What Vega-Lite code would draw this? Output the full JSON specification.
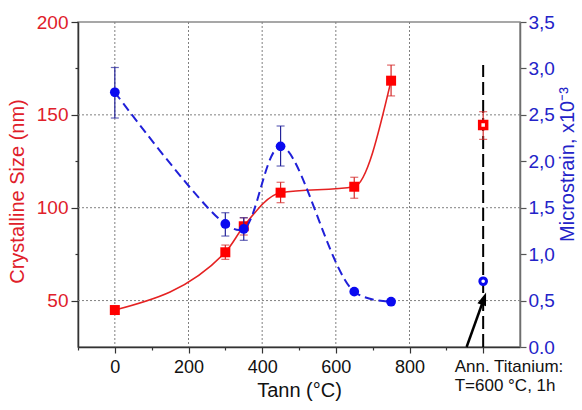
{
  "$schema": "https://vega.github.io/schema/vega-lite/v6.json",
  "width": 442,
  "height": 325,
  "autosize": {"type": "none"},
  "padding": {"left": 78, "top": 22, "right": 62, "bottom": 63},
  "background": "white",
  "config": {
    "font": "Liberation Sans",
    "view": {"stroke": "#8a8a8a", "strokeWidth": 1.5},
    "axis": {
      "labelFont": "Liberation Sans",
      "titleFont": "Liberation Sans",
      "titleFontWeight": "normal",
      "domainWidth": 1.5,
      "tickWidth": 1.2
    }
  },
  "datasets": {
    "crystal": [
      {"t": 0, "size": 44.9, "set": "main"},
      {"t": 300, "size": 76.0, "lo": 72.2, "hi": 79.9, "set": "main"},
      {"t": 350, "size": 90.0, "lo": 85.3, "hi": 94.6, "set": "main"},
      {"t": 450, "size": 108.1, "lo": 102.7, "hi": 113.7, "set": "main"},
      {"t": 650, "size": 111.3, "lo": 105.1, "hi": 116.4, "set": "main"},
      {"t": 750, "size": 168.4, "lo": 160.2, "hi": 176.8, "set": "main"},
      {"t": 1000, "size": 144.5, "lo": 136.8, "hi": 151.7, "set": "ann"}
    ],
    "strain": [
      {"t": 0, "strain": 2.743, "lo": 2.466, "hi": 3.01, "set": "main"},
      {"t": 300, "strain": 1.325, "lo": 1.195, "hi": 1.446, "set": "main"},
      {"t": 350, "strain": 1.271, "lo": 1.149, "hi": 1.392, "set": "main"},
      {"t": 450, "strain": 2.161, "lo": 1.949, "hi": 2.38, "set": "main"},
      {"t": 650, "strain": 0.596, "set": "main"},
      {"t": 750, "strain": 0.488, "set": "main"},
      {"t": 1000, "strain": 0.708, "set": "ann"}
    ],
    "xgrid": [{"g": 0}, {"g": 200}, {"g": 400}, {"g": 600}, {"g": 800}],
    "ygrid": [{"g": 50}, {"g": 100}, {"g": 150}],
    "marker": [{"t": 1000, "ybot": 25, "ytop": 176.8}],
    "arrow": [{"x": 955, "y": 0, "x2": 1002, "y2": 0.52}]
  },
  "layer": [
    {
      "layer": [
        {
          "data": {"name": "xgrid"},
          "mark": {"type": "rule", "color": "#808080", "strokeWidth": 1, "strokeDash": [2, 2]},
          "encoding": {
            "x": {
              "field": "g", "type": "quantitative",
              "title": "Tann (°C)",
              "scale": {"domain": [-100, 1100], "nice": false, "zero": false},
              "axis": {
                "orient": "bottom",
                "values": [-100, 0, 100, 200, 300, 400, 500, 600, 700, 800, 900, 1000],
                "labelExpr": "datum.value == 1000 ? ['Ann. Titanium:', 'T=600 °C, 1h'] : ((datum.value % 200 == 0 && datum.value >= 0) ? format(datum.value, 'd') : '')",
                "labelFontSize": {"condition": {"test": "datum.value == 1000", "value": 17}, "value": 18},
                "labelColor": "#111111",
                "labelAlign": {"condition": {"test": "datum.value == 1000", "value": "left"}, "value": "center"},
                "labelOffset": {"condition": {"test": "datum.value == 1000", "value": -29}, "value": 0},
                "labelBaseline": "top",
                "labelPadding": 5,
                "labelLineHeight": 19,
                "labelFlush": false,
                "labelOverlap": false,
                "tickSize": {"condition": {"test": "datum.value % 200 == 0", "value": 6}, "value": 3},
                "tickColor": "#333333",
                "grid": false,
                "domainColor": "#333333",
                "title": "Tann (°C)",
                "titleFontSize": 20,
                "titleColor": "#111111",
                "titleY": 33,
                "titleBaseline": "top"
              }
            }
          }
        },
        {
          "data": {"name": "ygrid"},
          "mark": {"type": "rule", "color": "#808080", "strokeWidth": 1, "strokeDash": [2, 2]},
          "encoding": {
            "y": {
              "field": "g", "type": "quantitative",
              "title": "Crystalline Size (nm)",
              "scale": {"domain": [25, 200], "nice": false, "zero": false},
              "axis": {
                "orient": "left",
                "values": [50, 75, 100, 125, 150, 175, 200],
                "labelExpr": "datum.value % 50 == 0 ? format(datum.value, 'd') : ''",
                "labelFontSize": 19,
                "labelColor": "#e0202a",
                "labelPadding": 3,
                "tickSize": {"condition": {"test": "datum.value % 50 == 0", "value": 7}, "value": 3},
                "tickColor": "#333333",
                "grid": false,
                "domainColor": "#333333",
                "title": "Crystalline Size (nm)",
                "titleColor": "#e0202a",
                "titleFontSize": 20,
                "titleAngle": 270,
                "titleX": -55,
                "titleY": 169,
                "titleAlign": "center",
                "titleBaseline": "alphabetic"
              }
            }
          }
        },
        {
          "data": {"name": "marker"},
          "mark": {"type": "rule", "color": "#000000", "strokeWidth": 2, "strokeDash": [13, 5]},
          "encoding": {
            "x": {"field": "t", "type": "quantitative", "title": "Tann (°C)", "scale": {"domain": [-100, 1100], "nice": false, "zero": false}},
            "y": {"field": "ybot", "type": "quantitative", "title": "Crystalline Size (nm)", "scale": {"domain": [25, 200], "nice": false, "zero": false}},
            "y2": {"field": "ytop"}
          }
        },
        {
          "data": {"name": "crystal"},
          "transform": [{"filter": "datum.set == 'main'"}],
          "mark": {"type": "line", "color": "#e52222", "strokeWidth": 1.6, "interpolate": "monotone"},
          "encoding": {
            "x": {"field": "t", "type": "quantitative", "title": "Tann (°C)", "scale": {"domain": [-100, 1100], "nice": false, "zero": false}},
            "y": {"field": "size", "type": "quantitative", "title": "Crystalline Size (nm)", "scale": {"domain": [25, 200], "nice": false, "zero": false}}
          }
        },
        {
          "data": {"name": "crystal"},
          "transform": [{"filter": "isValid(datum.lo)"}],
          "mark": {"type": "errorbar", "color": "#d42a2a", "thickness": 1.2, "ticks": {"size": 8, "thickness": 1.2, "color": "#d42a2a"}},
          "encoding": {
            "x": {"field": "t", "type": "quantitative", "title": "Tann (°C)", "scale": {"domain": [-100, 1100], "nice": false, "zero": false}},
            "y": {"field": "lo", "type": "quantitative", "title": "Crystalline Size (nm)", "scale": {"domain": [25, 200], "nice": false, "zero": false}},
            "y2": {"field": "hi"}
          }
        },
        {
          "data": {"name": "crystal"},
          "transform": [{"filter": "datum.set == 'main'"}],
          "mark": {"type": "point", "shape": "square", "filled": true, "color": "#ff0000", "size": 100, "opacity": 1},
          "encoding": {
            "x": {"field": "t", "type": "quantitative", "title": "Tann (°C)", "scale": {"domain": [-100, 1100], "nice": false, "zero": false}},
            "y": {"field": "size", "type": "quantitative", "title": "Crystalline Size (nm)", "scale": {"domain": [25, 200], "nice": false, "zero": false}}
          }
        },
        {
          "data": {"name": "crystal"},
          "transform": [{"filter": "datum.set == 'ann'"}],
          "mark": {"type": "point", "shape": "square", "filled": false, "fill": "#ffffff", "fillOpacity": 1, "stroke": "#ff0000", "strokeWidth": 3.5, "size": 49, "opacity": 1},
          "encoding": {
            "x": {"field": "t", "type": "quantitative", "title": "Tann (°C)", "scale": {"domain": [-100, 1100], "nice": false, "zero": false}},
            "y": {"field": "size", "type": "quantitative", "title": "Crystalline Size (nm)", "scale": {"domain": [25, 200], "nice": false, "zero": false}}
          }
        }
      ]
    },
    {
      "layer": [
        {
          "data": {"name": "strain"},
          "transform": [{"filter": "datum.set == 'main'"}],
          "mark": {"type": "line", "color": "#2020d8", "strokeWidth": 2, "strokeDash": [9, 5], "interpolate": "catmull-rom"},
          "encoding": {
            "x": {"field": "t", "type": "quantitative", "title": "Tann (°C)", "scale": {"domain": [-100, 1100], "nice": false, "zero": false}},
            "y": {
              "field": "strain", "type": "quantitative",
              "title": "Microstrain, x10⁻³",
              "scale": {"domain": [0, 3.5], "nice": false, "zero": false},
              "axis": {
                "orient": "right",
                "values": [0, 0.25, 0.5, 0.75, 1, 1.25, 1.5, 1.75, 2, 2.25, 2.5, 2.75, 3, 3.25, 3.5],
                "labelExpr": "datum.value == 0 ? '0.0' : (abs(datum.value * 2 - round(datum.value * 2)) < 0.001 ? replace(format(datum.value, '.1f'), '.', ',') : '')",
                "labelFontSize": 19,
                "labelColor": "#2323c8",
                "labelPadding": 2,
                "labelFlush": false,
                "tickSize": {"condition": {"test": "abs(datum.value * 2 - round(datum.value * 2)) < 0.001", "value": 6}, "value": 3},
                "tickColor": "#555555",
                "grid": false,
                "domainColor": "#6e6e6e",
                "title": "Microstrain, x10⁻³",
                "titleColor": "#2323c8",
                "titleFontSize": 20,
                "titleAngle": 270,
                "titleX": 53,
                "titleY": 142,
                "titleAlign": "center",
                "titleBaseline": "alphabetic"
              }
            }
          }
        },
        {
          "data": {"name": "strain"},
          "transform": [{"filter": "isValid(datum.lo)"}],
          "mark": {"type": "errorbar", "color": "#24249a", "thickness": 1.2, "ticks": {"size": 8, "thickness": 1.2, "color": "#24249a"}},
          "encoding": {
            "x": {"field": "t", "type": "quantitative", "title": "Tann (°C)", "scale": {"domain": [-100, 1100], "nice": false, "zero": false}},
            "y": {"field": "lo", "type": "quantitative", "title": "Microstrain, x10⁻³", "scale": {"domain": [0, 3.5], "nice": false, "zero": false}},
            "y2": {"field": "hi"}
          }
        },
        {
          "data": {"name": "strain"},
          "transform": [{"filter": "datum.set == 'main'"}],
          "mark": {"type": "point", "shape": "circle", "filled": true, "color": "#0a0af0", "size": 95, "opacity": 1},
          "encoding": {
            "x": {"field": "t", "type": "quantitative", "title": "Tann (°C)", "scale": {"domain": [-100, 1100], "nice": false, "zero": false}},
            "y": {"field": "strain", "type": "quantitative", "title": "Microstrain, x10⁻³", "scale": {"domain": [0, 3.5], "nice": false, "zero": false}}
          }
        },
        {
          "data": {"name": "arrow"},
          "mark": {"type": "rule", "color": "#000000", "strokeWidth": 2.5},
          "encoding": {
            "x": {"field": "x", "type": "quantitative", "title": "Tann (°C)", "scale": {"domain": [-100, 1100], "nice": false, "zero": false}},
            "y": {"field": "y", "type": "quantitative", "title": "Microstrain, x10⁻³", "scale": {"domain": [0, 3.5], "nice": false, "zero": false}},
            "x2": {"field": "x2"},
            "y2": {"field": "y2"}
          }
        },
        {
          "data": {"name": "arrow"},
          "mark": {"type": "point", "shape": "M0,-1L0.7,1L-0.7,1Z", "filled": true, "color": "#000000", "size": 169, "angle": 19.5, "opacity": 1},
          "encoding": {
            "x": {"field": "x2", "type": "quantitative", "title": "Tann (°C)", "scale": {"domain": [-100, 1100], "nice": false, "zero": false}},
            "y": {"field": "y2", "type": "quantitative", "title": "Microstrain, x10⁻³", "scale": {"domain": [0, 3.5], "nice": false, "zero": false}}
          }
        },
        {
          "data": {"name": "strain"},
          "transform": [{"filter": "datum.set == 'ann'"}],
          "mark": {"type": "point", "shape": "circle", "filled": false, "fill": "#ffffff", "fillOpacity": 1, "stroke": "#0a0af0", "strokeWidth": 3, "size": 44, "opacity": 1},
          "encoding": {
            "x": {"field": "t", "type": "quantitative", "title": "Tann (°C)", "scale": {"domain": [-100, 1100], "nice": false, "zero": false}},
            "y": {"field": "strain", "type": "quantitative", "title": "Microstrain, x10⁻³", "scale": {"domain": [0, 3.5], "nice": false, "zero": false}}
          }
        }
      ]
    }
  ],
  "resolve": {"scale": {"y": "independent"}}
}
